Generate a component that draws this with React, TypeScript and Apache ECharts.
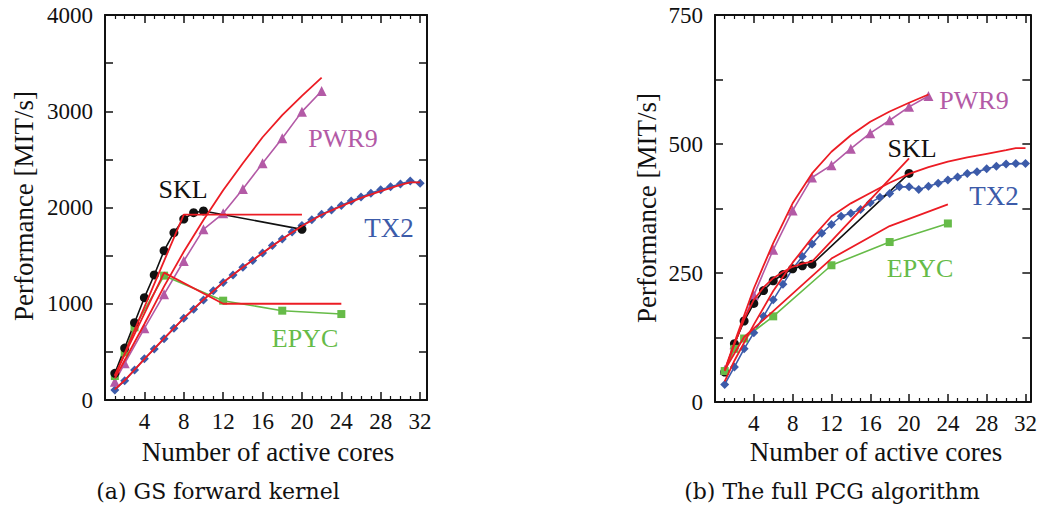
import React, { useEffect, useRef } from "react";
import * as echarts from "echarts";

// ---------- (a) GS forward kernel ----------
const gsSklCores = [1, 2, 3, 4, 5, 6, 7, 8, 9, 10, 20];
const gsSklPerf = [277, 540, 803, 1063, 1299, 1551, 1738, 1880, 1946, 1964, 1773];
const gsSklModelCores = [1, 8, 20];
const gsSklModelPerf = [245, 1925, 1925];

const gsEpycCores = [1, 2, 3, 6, 12, 18, 24];
const gsEpycPerf = [249, 495, 755, 1292, 1032, 928, 893];
const gsEpycModelCores = [1, 6, 12, 24];
const gsEpycModelPerf = [258, 1323, 1000, 1000];

const gsPwr9Cores = [1, 2, 4, 6, 8, 10, 12, 14, 16, 18, 20, 22];
const gsPwr9Perf = [190, 381, 745, 1098, 1444, 1773, 1939, 2192, 2459, 2719, 2996, 3210];
const gsPwr9ModelCores = [1, 2, 4, 6, 8, 10, 12, 14, 16, 18, 20, 22];
const gsPwr9ModelPerf = [225, 410, 790, 1180, 1540, 1870, 2180, 2460, 2730, 2960, 3160, 3350];

const gsTx2Cores = [1, 2, 3, 4, 5, 6, 7, 8, 9, 10, 11, 12, 13, 14, 15, 16, 17, 18, 19, 20, 21, 22, 23, 24, 25, 26, 27, 28, 29, 30, 31, 32];
const gsTx2Perf = [104, 201, 312, 429, 530, 637, 745, 849, 942, 1039, 1136, 1222, 1300, 1380, 1450, 1527, 1605, 1672, 1745, 1812, 1874, 1930, 1975, 2020, 2068, 2110, 2148, 2184, 2216, 2245, 2275, 2252];
const gsTx2ModelCores = [1, 2, 4, 6, 8, 10, 12, 14, 16, 18, 20, 22, 24, 26, 28, 30, 31, 32];
const gsTx2ModelPerf = [110, 205, 425, 640, 850, 1042, 1222, 1380, 1527, 1672, 1808, 1925, 2015, 2100, 2170, 2235, 2262, 2262];

// ---------- (b) The full PCG algorithm ----------
const pcgSklCores = [1, 2, 3, 4, 5, 6, 7, 8, 9, 10, 20];
const pcgSklPerf = [58, 113, 157, 191, 216, 235, 247, 258, 264, 267, 443];
const pcgSklModelCores = [1, 2, 3, 4, 5, 6, 7, 8, 9, 10, 20];
const pcgSklModelPerf = [60, 112, 160, 198, 222, 240, 252, 262, 268, 272, 472];

const pcgEpycCores = [1, 2, 3, 6, 12, 18, 24];
const pcgEpycPerf = [60, 103, 123, 166, 265, 310, 346];
const pcgEpycModelCores = [1, 3, 6, 12, 18, 24];
const pcgEpycModelPerf = [62, 126, 176, 278, 341, 383];

const pcgPwr9Cores = [1, 2, 4, 6, 8, 10, 12, 14, 16, 18, 20, 22];
const pcgPwr9Perf = [62, 112, 207, 295, 371, 435, 459, 491, 521, 546, 572, 593];
const pcgPwr9ModelCores = [1, 2, 4, 6, 8, 10, 12, 14, 16, 18, 20, 22];
const pcgPwr9ModelPerf = [62, 115, 220, 308, 385, 443, 485, 517, 543, 563, 580, 596];

const pcgTx2Cores = [1, 2, 3, 4, 5, 6, 7, 8, 9, 10, 11, 12, 13, 14, 15, 16, 17, 18, 19, 20, 21, 22, 23, 24, 25, 26, 27, 28, 29, 30, 31, 32];
const pcgTx2Perf = [34, 68, 103, 134, 166, 198, 228, 258, 282, 306, 327, 344, 360, 366, 373, 386, 397, 404, 417, 417, 412, 418, 424, 430, 436, 443, 446, 452, 457, 461, 462, 462];
const pcgTx2ModelCores = [1, 2, 4, 6, 8, 10, 12, 14, 16, 18, 20, 22, 24, 26, 28, 30, 31, 32];
const pcgTx2ModelPerf = [40, 80, 150, 215, 270, 318, 360, 385, 405, 425, 442, 455, 466, 474, 481, 488, 492, 492];

const xTickLabels = [4, 8, 12, 16, 20, 24, 28, 32];
const gsYTickLabels = [0, 1000, 2000, 3000, 4000];
const pcgYTickLabels = [0, 250, 500, 750];

const panelTitles = ["(a) GS forward kernel", "(b) The full PCG algorithm"];
const xAxisTitle = "Number of active cores";
const yAxisTitle = "Performance [MIT/s]";

const RED = "#ec1c24";
const MAGENTA = "#b35aa6";
const BLUE = "#3c5ba9";
const GREEN = "#66bb48";
const BLACK = "#111111";
const FONT = "'Liberation Serif', 'DejaVu Serif', serif";
const CAPTION_FONT = "'DejaVu Serif', 'Liberation Serif', serif";

const pairs = (xs: number[], ys: number[]) => xs.map((x, i) => [x, ys[i]]);

export default function App() {
  const ref = useRef<HTMLDivElement>(null);

  useEffect(() => {
    document.body.style.margin = "0";
    const chart = echarts.init(ref.current!, null, { renderer: "svg" });

    const xAxisBase = (gridIndex: number, max: number, top: boolean) => ({
      type: "value",
      gridIndex,
      position: top ? "top" : "bottom",
      min: 0,
      max,
      interval: 4,
      axisLine: { show: true, onZero: false, lineStyle: { color: BLACK, width: 2 } },
      axisTick: { show: true, inside: true, length: 8, lineStyle: { color: BLACK, width: 1.5 } },
      minorTick: { show: true, splitNumber: 4, length: 4, lineStyle: { color: BLACK, width: 1.2 } },
      splitLine: { show: false },
      axisLabel: {
        show: !top,
        margin: 10,
        fontFamily: FONT,
        fontSize: 23,
        color: BLACK,
        showMinLabel: false,
        showMaxLabel: true,
        formatter: (v: number) => (xTickLabels.includes(v) ? String(v) : ""),
      },
    });

    const yAxisBase = (gridIndex: number, max: number, interval: number, labels: number[], right: boolean) => ({
      type: "value",
      gridIndex,
      position: right ? "right" : "left",
      min: 0,
      max,
      interval,
      axisLine: { show: true, onZero: false, lineStyle: { color: BLACK, width: 2 } },
      axisTick: { show: true, inside: true, length: 8, lineStyle: { color: BLACK, width: 1.5 } },
      splitLine: { show: false },
      axisLabel: {
        show: !right,
        margin: 12,
        fontFamily: FONT,
        fontSize: 23,
        color: BLACK,
        formatter: (v: number) => (labels.includes(v) ? String(v) : ""),
      },
    });

    const dataSeries = (xi: number, yi: number, xs: number[], ys: number[], color: string, symbol: string, size: number) => ({
      type: "line",
      xAxisIndex: xi,
      yAxisIndex: yi,
      data: pairs(xs, ys),
      symbol,
      symbolSize: size,
      showSymbol: true,
      lineStyle: { color, width: 1.6 },
      itemStyle: { color },
      z: 3,
    });
    const modelSeries = (xi: number, yi: number, xs: number[], ys: number[]) => ({
      type: "line",
      xAxisIndex: xi,
      yAxisIndex: yi,
      data: pairs(xs, ys),
      symbol: "none",
      smooth: false,
      lineStyle: { color: RED, width: 1.8 },
      z: 4,
    });

    const txt = (text: string, x: number, y: number, color: string, size: number, family = FONT, rotation = 0) => ({
      type: "text",
      x,
      y,
      rotation,
      style: {
        text,
        fill: color,
        font: `${size}px ${family}`,
        textAlign: "center",
        textVerticalAlign: "middle",
        align: "center",
        verticalAlign: "middle",
      },
    });

    chart.setOption({
      animation: false,
      backgroundColor: "#ffffff",
      grid: [
        { left: 105, top: 15, width: 322, height: 385, containLabel: false },
        { left: 715, top: 15, width: 318, height: 387, containLabel: false },
      ],
      xAxis: [
        xAxisBase(0, 32.7, false),
        xAxisBase(0, 32.7, true),
        xAxisBase(1, 32.5, false),
        xAxisBase(1, 32.5, true),
      ],
      yAxis: [
        yAxisBase(0, 4000, 500, gsYTickLabels, false),
        yAxisBase(0, 4000, 500, gsYTickLabels, true),
        yAxisBase(1, 750, 125, pcgYTickLabels, false),
        yAxisBase(1, 750, 125, pcgYTickLabels, true),
      ],
      series: [
        dataSeries(0, 0, gsTx2Cores, gsTx2Perf, BLUE, "diamond", 9),
        dataSeries(0, 0, gsPwr9Cores, gsPwr9Perf, MAGENTA, "triangle", 10),
        dataSeries(0, 0, gsEpycCores, gsEpycPerf, GREEN, "rect", 8),
        dataSeries(0, 0, gsSklCores, gsSklPerf, BLACK, "circle", 9),
        modelSeries(0, 0, gsTx2ModelCores, gsTx2ModelPerf),
        modelSeries(0, 0, gsPwr9ModelCores, gsPwr9ModelPerf),
        modelSeries(0, 0, gsEpycModelCores, gsEpycModelPerf),
        modelSeries(0, 0, gsSklModelCores, gsSklModelPerf),

        dataSeries(2, 2, pcgTx2Cores, pcgTx2Perf, BLUE, "diamond", 9),
        dataSeries(2, 2, pcgPwr9Cores, pcgPwr9Perf, MAGENTA, "triangle", 10),
        dataSeries(2, 2, pcgSklCores, pcgSklPerf, BLACK, "circle", 9),
        dataSeries(2, 2, pcgEpycCores, pcgEpycPerf, GREEN, "rect", 8),
        modelSeries(2, 2, pcgTx2ModelCores, pcgTx2ModelPerf),
        modelSeries(2, 2, pcgPwr9ModelCores, pcgPwr9ModelPerf),
        modelSeries(2, 2, pcgEpycModelCores, pcgEpycModelPerf),
        modelSeries(2, 2, pcgSklModelCores, pcgSklModelPerf),
      ],
      graphic: [
        txt("SKL", 183, 189, BLACK, 26),
        txt("PWR9", 343, 138, MAGENTA, 26),
        txt("TX2", 389, 228, BLUE, 27),
        txt("EPYC", 305, 338, GREEN, 26),
        txt("PWR9", 974, 100, MAGENTA, 26),
        txt("SKL", 912, 148, BLACK, 26),
        txt("TX2", 994, 196, BLUE, 27),
        txt("EPYC", 920, 268, GREEN, 26),
        txt(yAxisTitle, 24, 206, BLACK, 27, FONT, Math.PI / 2),
        txt(yAxisTitle, 647, 208, BLACK, 27, FONT, Math.PI / 2),
        txt(xAxisTitle, 268, 452, BLACK, 27),
        txt(xAxisTitle, 876, 452, BLACK, 27),
        txt(panelTitles[0], 218, 491, BLACK, 22, CAPTION_FONT),
        txt(panelTitles[1], 832, 491, BLACK, 22, CAPTION_FONT),
      ],
    });

    return () => chart.dispose();
  }, []);

  return <div ref={ref} style={{ width: 1040, height: 515 }} />;
}
